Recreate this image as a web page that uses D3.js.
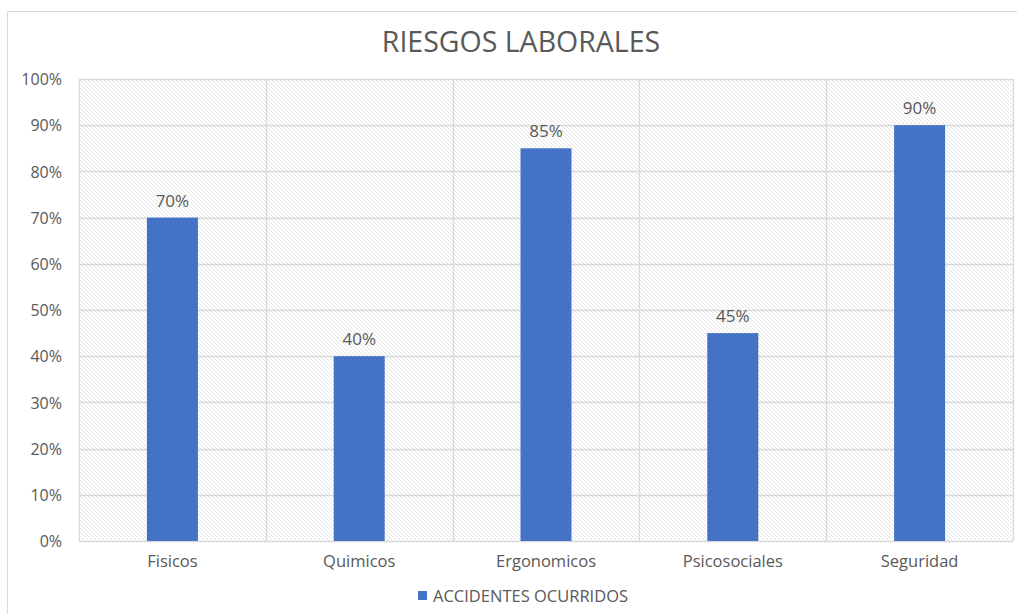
<!DOCTYPE html>
<html>
<head>
<meta charset="utf-8">
<script src="https://cdn.jsdelivr.net/npm/d3@7/dist/d3.min.js"></script>
<style>
  body { margin: 0; background: #fff; }
  text { font-family: "Open Sans", "Noto Sans", sans-serif; fill: #595959; }
</style>
</head>
<body>
<div id="chart"></div>
<script>
const categories = ["Fisicos", "Quimicos", "Ergonomicos", "Psicosociales", "Seguridad"];
const accidentes = [0.70, 0.40, 0.85, 0.45, 0.90];
const yTicks = [0, 0.1, 0.2, 0.3, 0.4, 0.5, 0.6, 0.7, 0.8, 0.9, 1.0];
const seriesName = "ACCIDENTES OCURRIDOS";
const chartTitle = "RIESGOS LABORALES";

const W = 1017, H = 614;
const plot = { left: 79, top: 79, right: 1013, bottom: 541 };

const svg = d3.select("#chart").append("svg")
    .attr("width", W)
    .attr("height", H);

// hatched plot background
const pat = svg.append("defs").append("pattern")
    .attr("id", "hatch")
    .attr("patternUnits", "userSpaceOnUse")
    .attr("width", 4)
    .attr("height", 4);
pat.append("rect").attr("width", 4).attr("height", 4).attr("fill", "#fff");
pat.append("path")
    .attr("d", "M-1,-1 L5,5 M-1,3 L1,5 M3,-1 L5,1")
    .attr("stroke", "#e4e4e4")
    .attr("stroke-width", 1);

// outer chart border (right side runs off the page)
svg.append("path")
    .attr("d", `M${W + 5},11.5 H7.5 V${H + 5}`)
    .attr("fill", "none")
    .attr("stroke", "#d9d9d9")
    .attr("stroke-width", 1);

const x = d3.scaleBand()
    .domain(categories)
    .range([plot.left, plot.right])
    .paddingInner(0.727)
    .paddingOuter(0.3635);

const xCells = d3.scaleBand()
    .domain(categories)
    .range([plot.left, plot.right]);

const y = d3.scaleLinear()
    .domain([0, 1])
    .range([plot.bottom, plot.top]);

svg.append("rect")
    .attr("x", plot.left)
    .attr("y", plot.top)
    .attr("width", plot.right - plot.left)
    .attr("height", plot.bottom - plot.top)
    .attr("fill", "url(#hatch)");

// horizontal gridlines
svg.append("g")
    .selectAll("line")
    .data(yTicks)
    .enter()
    .append("line")
    .attr("x1", plot.left)
    .attr("x2", plot.right)
    .attr("y1", d => Math.round(y(d)) + 0.5)
    .attr("y2", d => Math.round(y(d)) + 0.5)
    .attr("stroke", "#d9d9d9")
    .attr("stroke-width", 1.3);

// vertical category separators
const sepX = categories.map(c => xCells(c)).concat([plot.right]);
svg.append("g")
    .selectAll("line")
    .data(sepX)
    .enter()
    .append("line")
    .attr("x1", d => Math.round(d) + 0.5)
    .attr("x2", d => Math.round(d) + 0.5)
    .attr("y1", plot.top)
    .attr("y2", plot.bottom)
    .attr("stroke", "#d9d9d9")
    .attr("stroke-width", 1.3);

// y axis labels
const yAxis = d3.axisLeft(y)
    .tickValues(yTicks)
    .tickFormat(d3.format(".0%"))
    .tickSize(0)
    .tickPadding(17);
const yg = svg.append("g")
    .attr("transform", `translate(${plot.left},0)`)
    .call(yAxis);
yg.select(".domain").remove();
yg.selectAll("text")
    .style("font-size", "16px")
    .attr("dy", "0.35em")
    .attr("fill", "#595959")
    .style("font-family", '"Open Sans", sans-serif');

// x axis labels
const xAxis = d3.axisBottom(x).tickSize(0).tickPadding(14);
const xg = svg.append("g")
    .attr("transform", `translate(0,${plot.bottom})`)
    .call(xAxis);
xg.select(".domain").remove();
xg.selectAll("text")
    .style("font-size", "16.5px")
    .attr("fill", "#595959")
    .style("font-family", '"Open Sans", sans-serif');

// bars
svg.append("g")
    .selectAll("rect")
    .data(accidentes)
    .enter()
    .append("rect")
    .attr("x", (d, i) => x(categories[i]))
    .attr("y", d => y(d))
    .attr("width", x.bandwidth())
    .attr("height", d => y(0) - y(d))
    .attr("fill", "#4472C4");

// data labels
svg.append("g")
    .selectAll("text")
    .data(accidentes)
    .enter()
    .append("text")
    .attr("x", (d, i) => x(categories[i]) + x.bandwidth() / 2)
    .attr("y", d => y(d) - 11)
    .attr("text-anchor", "middle")
    .style("font-size", "17px")
    .text(d => d3.format(".0%")(d));

// title
svg.append("text")
    .attr("x", 521)
    .attr("y", 52)
    .attr("text-anchor", "middle")
    .style("font-size", "28.5px")
    .text(chartTitle);

// legend
const lg = svg.append("g").attr("transform", "translate(418,591)");
lg.append("rect").attr("width", 9).attr("height", 9).attr("fill", "#4472C4");
lg.append("text")
    .attr("x", 15)
    .attr("y", 11)
    .style("font-size", "16.5px")
    .text(seriesName);
</script>
</body>
</html>
